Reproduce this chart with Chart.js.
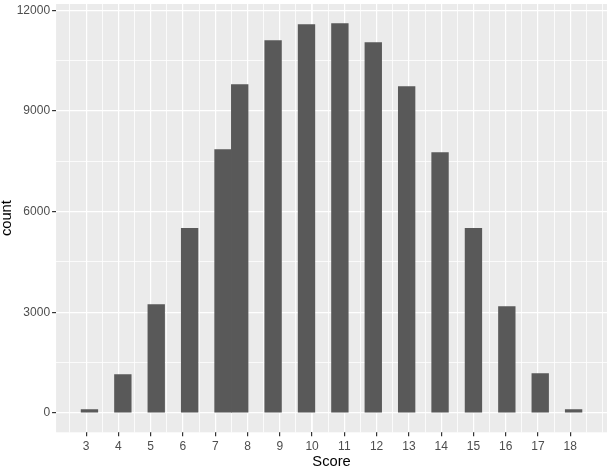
<!DOCTYPE html>
<html>
<head>
<meta charset="utf-8">
<script src="https://cdn.jsdelivr.net/npm/chart.js@4"></script>
<style>
  html, body { margin: 0; padding: 0; background: #fff; }
  #wrap { width: 607px; height: 471px; position: relative; }
</style>
</head>
<body>
<div id="wrap"><canvas id="hist"></canvas></div>
<script>
// Data
var scores = [3, 4, 5, 6, 7, 8, 9, 10, 11, 12, 13, 14, 15, 16, 17, 18];
var counts = [95, 1140, 3230, 5500, 7850, 9790, 11100, 11580, 11610, 11040, 9730, 7760, 5500, 3170, 1170, 95];
var yTicks = [0, 3000, 6000, 9000, 12000];

// ggplot-style binning: 30 bins over the score range
var nBins = 30;
var lo = Math.min.apply(null, scores), hi = Math.max.apply(null, scores);
var binWidth = (hi - lo) / (nBins - 1);
var boundary = binWidth / 2;
var origin = boundary + Math.floor((lo - boundary) / binWidth) * binWidth;
function binCenter(s) {
    var k = Math.floor((s - origin) / binWidth);
    return origin + (k + 0.5) * binWidth;
}
var xLo = origin, xHi = origin + nBins * binWidth;
var xMin = xLo - 0.05 * (xHi - xLo), xMax = xHi + 0.05 * (xHi - xLo);
var cMax = Math.max.apply(null, counts);
var yMin = -0.05 * cMax, yMax = cMax * 1.05;

var minorX = [];
for (var v = lo - 0.5; v <= xMax; v += 0.5) minorX.push(v);
var allY = [];
for (var t = 0; t <= yMax; t += 1500) allY.push(t);

// Panel background
var panelBg = {
    id: 'panelBg',
    beforeDraw: function (chart) {
        var a = chart.chartArea, ctx = chart.ctx;
        ctx.save();
        ctx.fillStyle = '#EBEBEB';
        ctx.fillRect(a.left, a.top, a.right - a.left, a.bottom - a.top);
        ctx.restore();
    }
};

var tickFont = { family: 'Liberation Sans, Arial, sans-serif', size: 12 };
var xTickFont = { family: 'Liberation Sans, Arial, sans-serif', size: 12, lineHeight: 1 };
var titleFont = { family: 'Liberation Sans, Arial, sans-serif', size: 14.7, lineHeight: 1 };

new Chart(document.getElementById('hist').getContext('2d'), {
    type: 'bar',
    data: {
        datasets: [{
            data: scores.map(function (s, i) { return { x: binCenter(s), y: counts[i] }; }),
            backgroundColor: '#595959',
            borderWidth: 0,
            barPercentage: 1,
            categoryPercentage: 1
        }]
    },
    options: {
        responsive: true,
        maintainAspectRatio: false,
        animation: false,
        layout: { padding: { top: 0, right: 0, bottom: 2, left: 0 } },
        plugins: { legend: { display: false }, tooltip: { enabled: false } },
        scales: {
            x: {
                type: 'linear',
                offset: false,
                min: xMin,
                max: xMax,
                afterBuildTicks: function (axis) {
                    axis.ticks = scores.map(function (s) { return { value: s }; });
                },
                grid: { offset: false, color: '#FFFFFF', lineWidth: 1.2, tickColor: '#333333', tickLength: 4 },
                border: { display: false },
                ticks: { font: xTickFont, color: '#4D4D4D', padding: 4, maxRotation: 0, autoSkip: false },
                title: { display: true, text: 'Score', font: titleFont, color: '#000000', padding: { top: -2, bottom: 0 } }
            },
            xMinor: {
                type: 'linear',
                position: 'top',
                offset: false,
                min: xMin,
                max: xMax,
                afterBuildTicks: function (axis) {
                    axis.ticks = minorX.map(function (m) { return { value: m }; });
                },
                grid: { offset: false, color: '#FFFFFF', lineWidth: 0.8, drawTicks: false },
                border: { display: false },
                ticks: { display: false }
            },
            y: {
                min: yMin,
                max: yMax,
                afterBuildTicks: function (axis) {
                    axis.ticks = allY.map(function (m) { return { value: m }; });
                },
                afterFit: function (axis) {
                    axis.paddingTop = 4;
                },
                grid: {
                    color: '#FFFFFF',
                    lineWidth: function (c) { return yTicks.indexOf(c.tick.value) >= 0 ? 1.2 : 0.8; },
                    tickColor: function (c) { return yTicks.indexOf(c.tick.value) >= 0 ? '#333333' : 'rgba(0,0,0,0)'; },
                    tickLength: 4
                },
                border: { display: false },
                ticks: { font: tickFont, color: '#4D4D4D', padding: 2, autoSkip: false,
                    callback: function (val) { return yTicks.indexOf(val) >= 0 ? String(val) : ''; } },
                title: { display: true, text: 'count', font: titleFont, color: '#000000', padding: { top: 0, bottom: 0 } }
            }
        }
    },
    plugins: [panelBg]
});
</script>
</body>
</html>
